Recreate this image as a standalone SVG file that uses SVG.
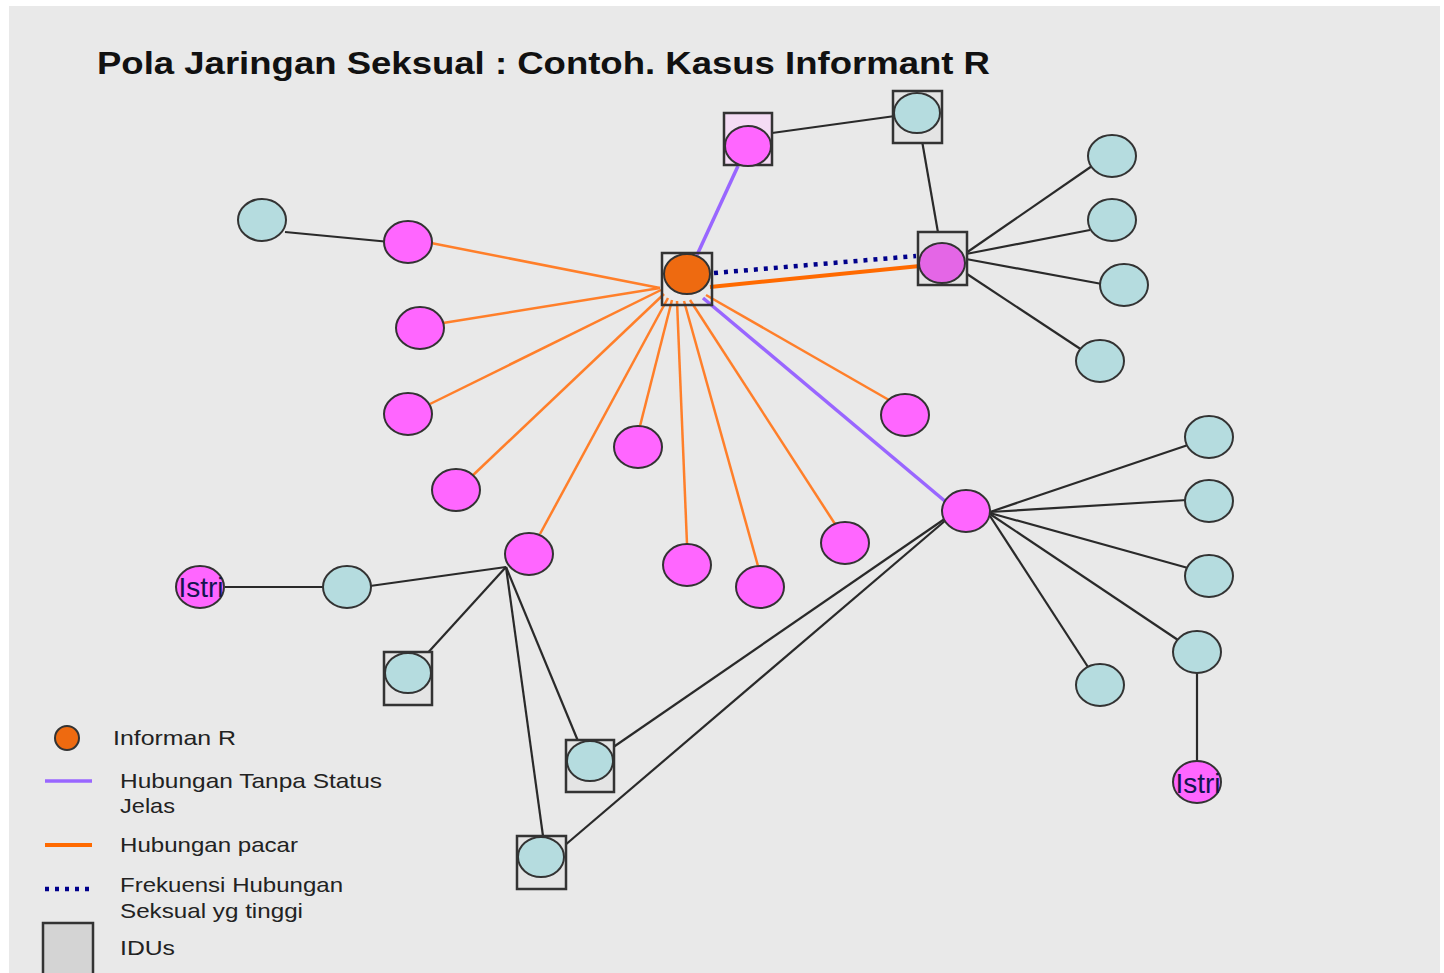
<svg xmlns="http://www.w3.org/2000/svg" width="1444" height="973" viewBox="0 0 1444 973">
<style>
.bg{fill:#e9e9e9}
.pk{fill:#ff66ff;stroke:#333;stroke-width:2}
.pk2{fill:#e466e6;stroke:#333;stroke-width:2}
.tl{fill:#b5dcdf;stroke:#333;stroke-width:2}
.hub{fill:#ee6a10;stroke:#333;stroke-width:2}
.sq{fill:#e4e4e4;stroke:#333;stroke-width:2.5}
.sqp{fill:#f4dcf4;stroke:#333;stroke-width:2.5}
.blk{stroke:#2a2a2a;stroke-width:2.2;fill:none}
.or{stroke:#ff7f2a;stroke-width:2.5;fill:none}
.orT{stroke:#ff6a00;stroke-width:4;fill:none}
.pu{stroke:#9966ff;stroke-width:3.5;fill:none}
.dot{stroke:#00008b;stroke-width:4.5;stroke-dasharray:4 6;fill:none}
.title{font-family:"Liberation Sans",Arial,sans-serif;font-weight:bold;font-size:32px;fill:#111}
.lg{font-family:"Liberation Sans",Arial,sans-serif;font-size:21px;fill:#222}
.istri{font-family:"Liberation Sans",Arial,sans-serif;font-size:28px;fill:#141450;text-anchor:middle}
</style>
<rect x="0" y="0" width="1444" height="973" fill="#ffffff"/>
<rect class="bg" x="9" y="6" width="1431" height="967"/>
<text class="title" x="97" y="74" textLength="893" lengthAdjust="spacingAndGlyphs">Pola Jaringan Seksual : Contoh.  Kasus Informant R</text>

<g id="connectors">
  <line class="blk" x1="285" y1="232" x2="390" y2="242"/>
  <line class="blk" x1="772" y1="133" x2="895" y2="116"/>
  <line class="blk" x1="921" y1="135" x2="940" y2="244"/>
  <line class="blk" x1="966" y1="253" x2="1092" y2="166"/>
  <line class="blk" x1="966" y1="254" x2="1090" y2="230"/>
  <line class="blk" x1="966" y1="259" x2="1102" y2="284"/>
  <line class="blk" x1="964" y1="272" x2="1082" y2="350"/>
  <line class="blk" x1="990" y1="512" x2="1188" y2="445"/>
  <line class="blk" x1="990" y1="512" x2="1187" y2="500"/>
  <line class="blk" x1="990" y1="513" x2="1188" y2="568"/>
  <line class="blk" x1="990" y1="514" x2="1178" y2="640"/>
  <line class="blk" x1="990" y1="516" x2="1088" y2="667"/>
  <line class="blk" x1="946" y1="518" x2="612" y2="748"/>
  <line class="blk" x1="946" y1="520" x2="564" y2="846"/>
  <line class="blk" x1="1197" y1="672" x2="1197" y2="762"/>
  <line class="blk" x1="506" y1="567" x2="370" y2="586"/>
  <line class="blk" x1="225" y1="587" x2="324" y2="587"/>
  <line class="blk" x1="506" y1="567" x2="424" y2="657"/>
  <line class="blk" x1="506" y1="567" x2="578" y2="741"/>
  <line class="blk" x1="506" y1="567" x2="543" y2="836"/>

  <line class="pu" x1="697" y1="255" x2="738" y2="166"/>
  <line class="pu" x1="703" y1="298" x2="946" y2="502"/>

  <line class="or" x1="660" y1="288" x2="431" y2="243"/>
  <line class="or" x1="660" y1="288" x2="443" y2="323"/>
  <line class="or" x1="661" y1="290" x2="430" y2="404"/>
  <line class="or" x1="664" y1="294" x2="470" y2="478"/>
  <line class="or" x1="668" y1="298" x2="540" y2="534"/>
  <line class="or" x1="672" y1="300" x2="640" y2="426"/>
  <line class="or" x1="677" y1="301" x2="687" y2="544"/>
  <line class="or" x1="684" y1="301" x2="758" y2="566"/>
  <line class="or" x1="690" y1="300" x2="835" y2="524"/>
  <line class="or" x1="706" y1="295" x2="889" y2="400"/>
  <line class="orT" x1="710" y1="287" x2="920" y2="266"/>
  <line class="dot" x1="714" y1="273" x2="916" y2="256"/>
</g>

<g id="hub"><rect class="sq" x="662" y="253" width="50" height="52" fill-opacity="0"/><ellipse class="hub" cx="687" cy="274" rx="23" ry="20"/></g>
<g id="top-pink"><rect class="sqp" x="724" y="113" width="48" height="52"/><ellipse class="pk" cx="748" cy="146" rx="23" ry="20"/></g>
<g id="top-teal"><rect class="sq" x="893" y="91" width="49" height="52"/><ellipse class="tl" cx="917" cy="113" rx="23" ry="20"/></g>
<g id="right-pink"><rect class="sq" x="918" y="232" width="49" height="53"/><ellipse class="pk2" cx="942" cy="263" rx="23" ry="20"/></g>

<g id="t1"><ellipse class="tl" cx="1112" cy="156" rx="24" ry="21"/></g>
<g id="t2"><ellipse class="tl" cx="1112" cy="220" rx="24" ry="21"/></g>
<g id="t3"><ellipse class="tl" cx="1124" cy="285" rx="24" ry="21"/></g>
<g id="t4"><ellipse class="tl" cx="1100" cy="361" rx="24" ry="21"/></g>

<g id="tl-left"><ellipse class="tl" cx="262" cy="220" rx="24" ry="21"/></g>
<g id="p1"><ellipse class="pk" cx="408" cy="242" rx="24" ry="21"/></g>
<g id="p2"><ellipse class="pk" cx="420" cy="328" rx="24" ry="21"/></g>
<g id="p3"><ellipse class="pk" cx="408" cy="414" rx="24" ry="21"/></g>
<g id="p4"><ellipse class="pk" cx="456" cy="490" rx="24" ry="21"/></g>
<g id="p5"><ellipse class="pk" cx="529" cy="554" rx="24" ry="21"/></g>
<g id="p6"><ellipse class="pk" cx="638" cy="447" rx="24" ry="21"/></g>
<g id="p7"><ellipse class="pk" cx="687" cy="565" rx="24" ry="21"/></g>
<g id="p8"><ellipse class="pk" cx="760" cy="587" rx="24" ry="21"/></g>
<g id="p9"><ellipse class="pk" cx="845" cy="543" rx="24" ry="21"/></g>
<g id="p10"><ellipse class="pk" cx="905" cy="415" rx="24" ry="21"/></g>
<g id="p11"><ellipse class="pk" cx="966" cy="511" rx="24" ry="21"/></g>

<g id="istri-left"><ellipse class="pk" cx="200" cy="587" rx="24" ry="21"/><text class="istri" x="201" y="597">Istri</text></g>
<g id="tl-mid"><ellipse class="tl" cx="347" cy="587" rx="24" ry="21"/></g>
<g id="sq1"><rect class="sq" x="384" y="652" width="48" height="53"/><ellipse class="tl" cx="408" cy="673" rx="23" ry="20"/></g>
<g id="sq2"><rect class="sq" x="566" y="740" width="48" height="52"/><ellipse class="tl" cx="590" cy="761" rx="23" ry="20"/></g>
<g id="sq3"><rect class="sq" x="517" y="836" width="49" height="53"/><ellipse class="tl" cx="541" cy="857" rx="23" ry="20"/></g>

<g id="r1"><ellipse class="tl" cx="1209" cy="437" rx="24" ry="21"/></g>
<g id="r2"><ellipse class="tl" cx="1209" cy="501" rx="24" ry="21"/></g>
<g id="r3"><ellipse class="tl" cx="1209" cy="576" rx="24" ry="21"/></g>
<g id="r4"><ellipse class="tl" cx="1197" cy="652" rx="24" ry="21"/></g>
<g id="r5"><ellipse class="tl" cx="1100" cy="685" rx="24" ry="21"/></g>
<g id="istri-right"><ellipse class="pk" cx="1197" cy="782" rx="24" ry="21"/><text class="istri" x="1198" y="793">Istri</text></g>

<g id="legend">
  <circle class="hub" cx="67" cy="738" r="12"/>
  <text class="lg" x="113" y="745" textLength="123" lengthAdjust="spacingAndGlyphs">Informan R</text>
  <line class="pu" x1="45" y1="781" x2="92" y2="781"/>
  <text class="lg" x="120" y="788" textLength="262" lengthAdjust="spacingAndGlyphs">Hubungan Tanpa Status</text>
  <text class="lg" x="120" y="813" textLength="55" lengthAdjust="spacingAndGlyphs">Jelas</text>
  <line class="orT" x1="45" y1="845" x2="92" y2="845"/>
  <text class="lg" x="120" y="852" textLength="178" lengthAdjust="spacingAndGlyphs">Hubungan pacar</text>
  <line class="dot" x1="45" y1="889" x2="90" y2="889"/>
  <text class="lg" x="120" y="892" textLength="223" lengthAdjust="spacingAndGlyphs">Frekuensi Hubungan</text>
  <text class="lg" x="120" y="918" textLength="183" lengthAdjust="spacingAndGlyphs">Seksual yg tinggi</text>
  <rect x="43" y="923" width="50" height="55" fill="#d4d4d4" stroke="#333" stroke-width="2.5"/>
  <text class="lg" x="120" y="955" textLength="55" lengthAdjust="spacingAndGlyphs">IDUs</text>
</g>
</svg>
